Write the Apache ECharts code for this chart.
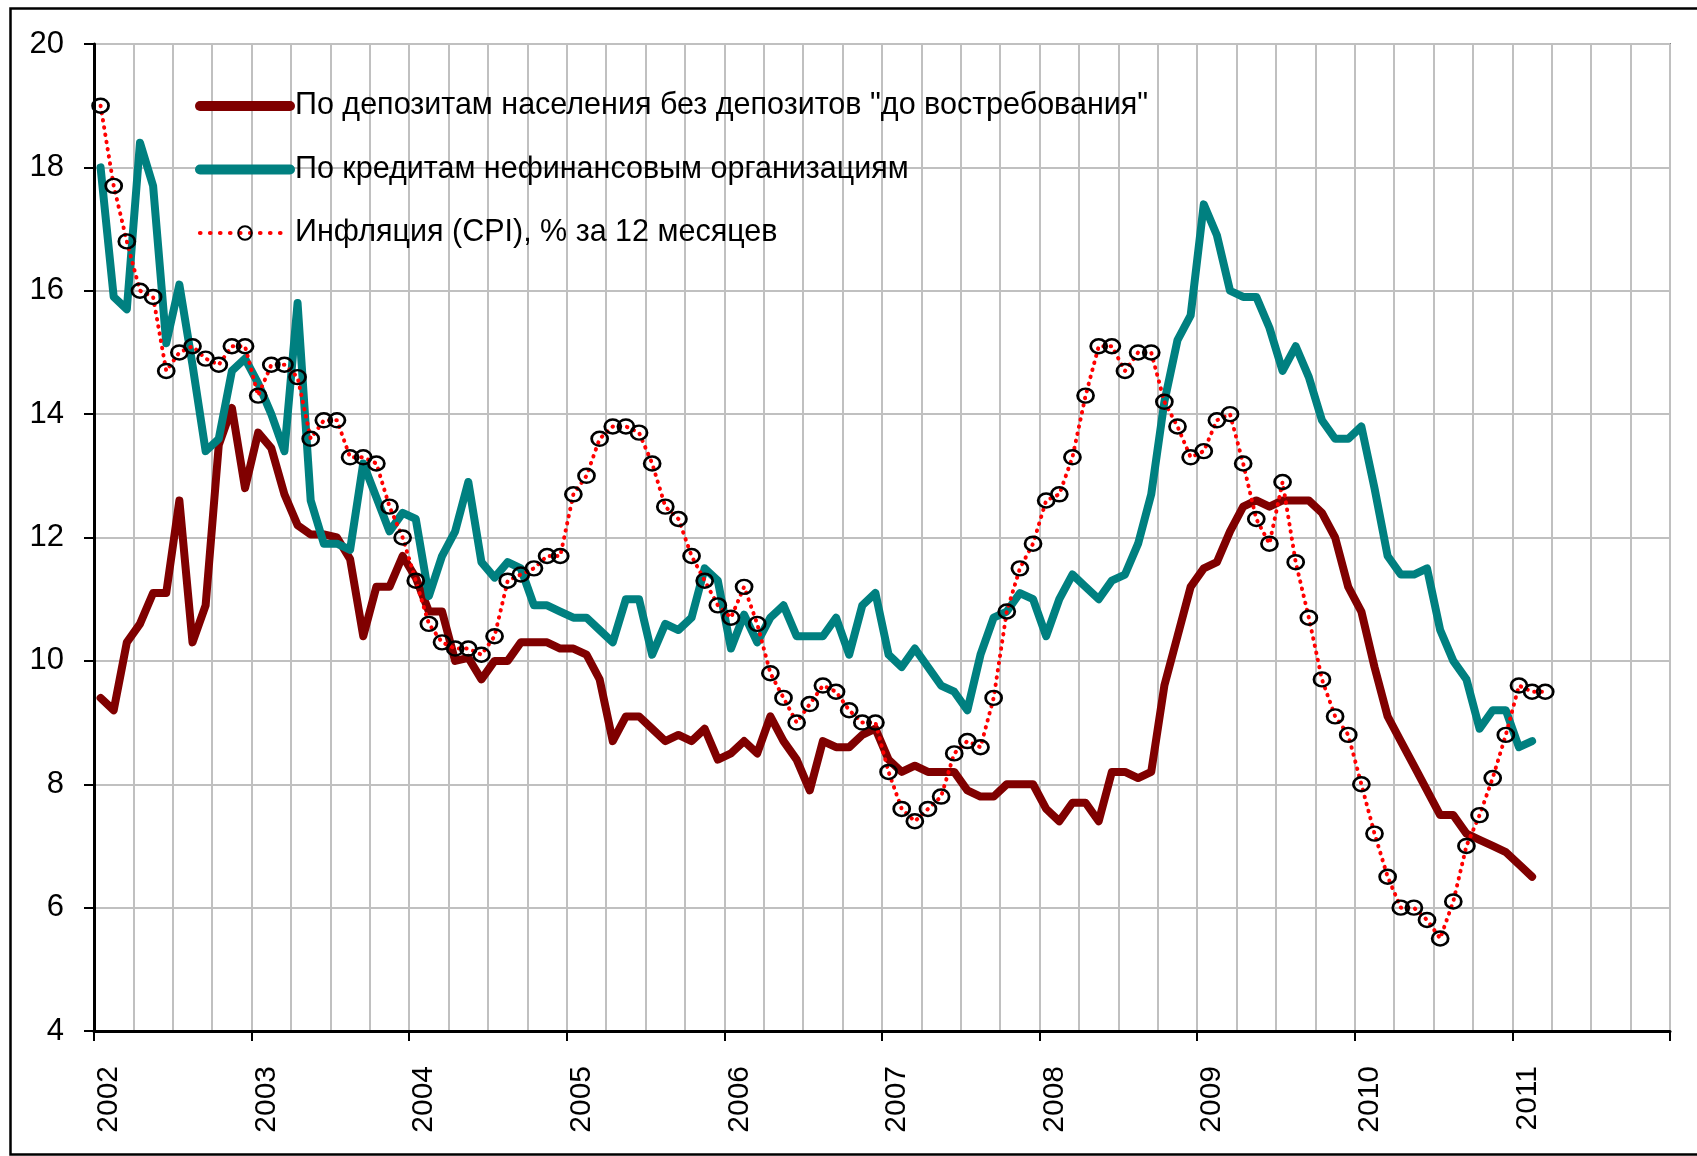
<!DOCTYPE html>
<html>
<head>
<meta charset="utf-8">
<title>Ставки и инфляция</title>
<script src="https://cdn.jsdelivr.net/npm/echarts@6.0.0/dist/echarts.min.js"></script>
<style>
  html, body { margin: 0; padding: 0; background: #fff; }
  #rateChart { width: 1697px; height: 1156px; }
</style>
</head>
<body>
<div id="rateChart"></div>
<script>
// помесячно, с января 2002
const depositRates = [
  9.4, 9.2, 10.3, 10.6, 11.1, 11.1, 12.6, 10.3, 10.9, 13.5, 14.1, 12.8,
  13.7, 13.45, 12.7, 12.2, 12.05, 12.05, 12.0, 11.65, 10.4, 11.2, 11.2, 11.7,
  11.35, 10.8, 10.8, 10.0, 10.05, 9.7, 10.0, 10.0, 10.3, 10.3, 10.3, 10.2,
  10.2, 10.1, 9.7, 8.7, 9.1, 9.1, 8.9, 8.7, 8.8, 8.7, 8.9, 8.4,
  8.5, 8.7, 8.5, 9.1, 8.7, 8.4, 7.9, 8.7, 8.6, 8.6, 8.8, 8.9,
  8.4, 8.2, 8.3, 8.2, 8.2, 8.2, 7.9, 7.8, 7.8, 8.0, 8.0, 8.0,
  7.6, 7.4, 7.7, 7.7, 7.4, 8.2, 8.2, 8.1, 8.2, 9.6, 10.4, 11.2,
  11.5, 11.6, 12.1, 12.5, 12.6, 12.5, 12.6, 12.6, 12.6, 12.4, 12.0, 11.2,
  10.8, 9.9, 9.1, 8.7, 8.3, 7.9, 7.5, 7.5, 7.2, 7.1, 7.0, 6.9,
  6.7, 6.5
];
const loanRates = [
  18.0, 15.9, 15.7, 18.4, 17.7, 15.15, 16.1, 14.8, 13.4, 13.6, 14.7, 14.9,
  14.5, 14.0, 13.4, 15.8, 12.6, 11.9, 11.9, 11.8, 13.2, 12.65, 12.1, 12.4,
  12.3, 11.05, 11.7, 12.1, 12.9, 11.6, 11.35, 11.6, 11.5, 10.9, 10.9, 10.8,
  10.7, 10.7, 10.5, 10.3, 11.0, 11.0, 10.1, 10.6, 10.5, 10.7, 11.5, 11.3,
  10.2, 10.75, 10.3, 10.7, 10.9, 10.4, 10.4, 10.4, 10.7, 10.1, 10.9, 11.1,
  10.1, 9.9, 10.2, 9.9, 9.6, 9.5, 9.2, 10.1, 10.7, 10.8, 11.1, 11.0,
  10.4, 11.0, 11.4, 11.2, 11.0, 11.3, 11.4, 11.9, 12.7, 14.2, 15.2, 15.6,
  17.4, 16.9, 16.0, 15.9, 15.9, 15.4, 14.7, 15.1, 14.6, 13.9, 13.6, 13.6,
  13.8, 12.8, 11.7, 11.4, 11.4, 11.5, 10.5, 10.0, 9.7, 8.9, 9.2, 9.2,
  8.6, 8.7
];
const cpiInflation = [
  19.0, 17.7, 16.8, 16.0, 15.9, 14.7, 15.0, 15.1, 14.9, 14.8, 15.1, 15.1,
  14.3, 14.8, 14.8, 14.6, 13.6, 13.9, 13.9, 13.3, 13.3, 13.2, 12.5, 12.0,
  11.3, 10.6, 10.3, 10.2, 10.2, 10.1, 10.4, 11.3, 11.4, 11.5, 11.7, 11.7,
  12.7, 13.0, 13.6, 13.8, 13.8, 13.7, 13.2, 12.5, 12.3, 11.7, 11.3, 10.9,
  10.7, 11.2, 10.6, 9.8, 9.4, 9.0, 9.3, 9.6, 9.5, 9.2, 9.0, 9.0,
  8.2, 7.6, 7.4, 7.6, 7.8, 8.5, 8.7, 8.6, 9.4, 10.8, 11.5, 11.9,
  12.6, 12.7, 13.3, 14.3, 15.1, 15.1, 14.7, 15.0, 15.0, 14.2, 13.8, 13.3,
  13.4, 13.9, 14.0, 13.2, 12.3, 11.9, 12.9, 11.6, 10.7, 9.7, 9.1, 8.8,
  8.0, 7.2, 6.5, 6.0, 6.0, 5.8, 5.5, 6.1, 7.0, 7.5, 8.1, 8.8,
  9.6, 9.5, 9.5
];
const yearLabels = ['2002', '2003', '2004', '2005', '2006', '2007', '2008', '2009', '2010', '2011'];
const seriesNames = [
  'По депозитам населения без депозитов "до востребования"',
  'По кредитам нефинансовым организациям',
  'Инфляция (CPI), % за 12 месяцев'
];

// ось до начала 2012 года, по месяцу на категорию
const monthCount = 120;
const months = [];
for (let i = 0; i < monthCount; i++) {
  const year = 2002 + Math.floor(i / 12);
  months.push(year + '-' + String(i % 12 + 1).padStart(2, '0'));
}

const fontFamily = '"Liberation Sans", Arial, sans-serif';

const chartDom = document.getElementById('rateChart');
const myChart = echarts.init(chartDom, null, { renderer: 'canvas' });
let option;

option = {
  animation: false,
  backgroundColor: '#fff',
  textStyle: { fontFamily: fontFamily, color: '#000' },
  grid: {
    left: 94,
    right: 27,
    top: 44,
    bottom: 125,
    show: true,
    borderColor: '#808080',
    borderWidth: 2,
    outerBoundsMode: 'none'
  },
  legend: {
    orient: 'vertical',
    left: 195,
    top: 90,
    padding: 0,
    itemWidth: 90,
    itemHeight: 17,
    itemGap: 31.5,
    selectedMode: false,
    textStyle: {
      fontSize: 30.5,
      color: '#000',
      lineHeight: 30,
      padding: [2, 0, 0, 0]
    },
    lineStyle: { width: 'inherit' },
    data: [
      // у сплошных линий в легенде нет маркера
      { name: seriesNames[0], itemStyle: { opacity: 0 }, lineStyle: { width: 10 } },
      { name: seriesNames[1], itemStyle: { opacity: 0 }, lineStyle: { width: 10 } },
      { name: seriesNames[2], lineStyle: { width: 4.2, type: [0.5, 9.5] } }
    ]
  },
  xAxis: [
    {
      // месяцы: по ним рисуются линии и вертикальная сетка (поквартально)
      type: 'category',
      data: months,
      boundaryGap: true,
      position: 'top',
      axisLine: { show: false },
      axisTick: { show: false },
      axisLabel: { show: false },
      splitLine: {
        show: true,
        interval: 2,
        lineStyle: { color: '#c0c0c0', width: 2 }
      }
    },
    {
      // подписи годов на границах лет
      type: 'value',
      min: 0,
      max: monthCount,
      interval: 12,
      position: 'bottom',
      axisLine: { show: true, lineStyle: { color: '#000', width: 3 } },
      axisTick: { show: true, length: 10, lineStyle: { color: '#000', width: 2 } },
      axisLabel: {
        rotate: 90,
        margin: 35,
        fontSize: 30,
        color: '#000',
        verticalAlign: 'top',
        showMaxLabel: true,
        formatter: function (v) {
          return yearLabels[v / 12] || '';
        }
      },
      splitLine: { show: false }
    }
  ],
  yAxis: {
    type: 'value',
    min: 4,
    max: 20,
    interval: 2,
    axisLine: { show: true, lineStyle: { color: '#000', width: 3 } },
    axisTick: { show: true, length: 10, lineStyle: { color: '#000', width: 2 } },
    axisLabel: {
      fontSize: 31,
      color: '#000',
      margin: 30,
      showMinLabel: true,
      showMaxLabel: true
    },
    splitLine: { show: true, lineStyle: { color: '#c0c0c0', width: 2 } }
  },
  series: [
    {
      name: seriesNames[0],
      type: 'line',
      xAxisIndex: 0,
      data: depositRates,
      symbol: 'none',
      silent: true,
      lineStyle: { color: '#800000', width: 8, cap: 'round', join: 'round' },
      itemStyle: { color: '#800000' }
    },
    {
      name: seriesNames[1],
      type: 'line',
      xAxisIndex: 0,
      data: loanRates,
      symbol: 'none',
      silent: true,
      lineStyle: { color: '#008080', width: 8, cap: 'round', join: 'round' },
      itemStyle: { color: '#008080' }
    },
    {
      name: seriesNames[2],
      type: 'line',
      xAxisIndex: 0,
      data: cpiInflation,
      symbol: 'circle',
      symbolSize: [16, 14],
      showAllSymbol: true,
      silent: true,
      lineStyle: { color: '#ff0000', width: 4, type: [0.5, 6.8], cap: 'round' },
      itemStyle: { color: 'rgba(0,0,0,0)', borderColor: '#000', borderWidth: 2.6 }
    }
  ],
  graphic: [
    {
      // рамка вокруг всей диаграммы
      type: 'rect',
      left: 8,
      top: 6,
      shape: { width: 1700, height: 1146 },
      style: { fill: null, stroke: '#000', lineWidth: 2.5 },
      silent: true
    }
  ]
};

option && myChart.setOption(option);
</script>
</body>
</html>
